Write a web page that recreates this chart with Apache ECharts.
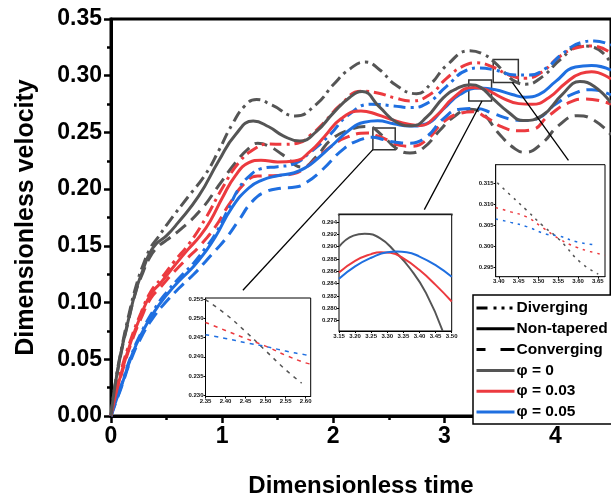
<!DOCTYPE html>
<html><head><meta charset="utf-8">
<script src="https://cdn.jsdelivr.net/npm/echarts@6/dist/echarts.min.js"></script>
<style>html,body{margin:0;padding:0;background:#fff}#c{width:611px;height:503px}</style>
</head><body><div id="c"></div>
<script>
const FONT = "'Liberation Sans', Arial, Helvetica, sans-serif";
const GRAY = '#555555', RED = '#ec3a3f', BLUE = '#1f6fe0';

// ---- main curves: [time, velocity] ----
const grayDiverging = [[0,0],[0.04,0.03],[0.1,0.062],[0.16,0.089],[0.23,0.116],[0.3,0.136],[0.36,0.149],[0.42,0.157],[0.52,0.171],[0.7,0.194],[0.85,0.213],[0.97,0.234],[1.09,0.257],[1.21,0.274],[1.31,0.279],[1.45,0.274],[1.66,0.2645],[1.85,0.275],[2.0,0.292],[2.15,0.306],[2.29,0.312],[2.42,0.305],[2.56,0.292],[2.75,0.2842],[2.88,0.293],[3.02,0.309],[3.23,0.322],[3.35,0.319],[3.45,0.312],[3.55,0.302],[3.64,0.2948],[3.73,0.2925],[3.88,0.299],[4.05,0.3148],[4.23,0.3263],[4.35,0.3249],[4.5,0.311]];
const grayNonTapered = [[0,0],[0.035,0.026],[0.09,0.056],[0.15,0.082],[0.225,0.111],[0.285,0.128],[0.345,0.143],[0.41,0.152],[0.5,0.159],[0.6,0.17],[0.79,0.194],[0.97,0.225],[1.12,0.248],[1.28,0.260],[1.42,0.255],[1.55,0.247],[1.70,0.2424],[1.85,0.251],[2.0,0.267],[2.15,0.281],[2.26,0.286],[2.42,0.272],[2.57,0.259],[2.71,0.2558],[2.84,0.2634],[2.99,0.2805],[3.1,0.288],[3.23,0.2921],[3.33,0.2895],[3.43,0.2805],[3.58,0.2676],[3.71,0.2605],[3.88,0.2648],[4.06,0.2834],[4.22,0.2948],[4.35,0.2905],[4.5,0.276]];
const grayConverging = [[0,0],[0.035,0.025],[0.09,0.055],[0.15,0.081],[0.225,0.11],[0.285,0.126],[0.35,0.14],[0.42,0.149],[0.5,0.155],[0.644,0.166],[0.822,0.1833],[0.97,0.2033],[1.12,0.2233],[1.24,0.236],[1.32,0.2405],[1.42,0.238],[1.55,0.230],[1.72,0.2195],[1.85,0.229],[1.98,0.2436],[2.15,0.2525],[2.3,0.2552],[2.45,0.2466],[2.56,0.2365],[2.69,0.2319],[2.81,0.2362],[2.96,0.2519],[3.08,0.2634],[3.23,0.2705],[3.35,0.2662],[3.49,0.2491],[3.64,0.2353],[3.73,0.2325],[3.88,0.2405],[4.03,0.2562],[4.2,0.2648],[4.325,0.262],[4.5,0.248]];
const redDiverging = [[0,0],[0.04,0.02],[0.09,0.04],[0.18,0.068],[0.27,0.091],[0.36,0.11],[0.45,0.121],[0.567,0.136],[0.703,0.152],[0.85,0.174],[1.0,0.2005],[1.15,0.2233],[1.30,0.236],[1.42,0.2398],[1.55,0.2395],[1.68,0.2405],[1.80,0.248],[1.92,0.259],[2.07,0.2748],[2.25,0.2863],[2.40,0.2848],[2.55,0.2806],[2.70,0.2778],[2.87,0.2834],[3.02,0.2977],[3.16,0.308],[3.286,0.3114],[3.435,0.3077],[3.583,0.3006],[3.73,0.2977],[3.88,0.3034],[4.03,0.3163],[4.2,0.3249],[4.325,0.3263],[4.5,0.320]];
const redNonTapered = [[0,0],[0.04,0.018],[0.092,0.0375],[0.181,0.066],[0.27,0.089],[0.359,0.1075],[0.448,0.1175],[0.567,0.132],[0.686,0.146],[0.804,0.159],[0.9,0.173],[1.0,0.192],[1.12,0.212],[1.24,0.2233],[1.35,0.2255],[1.5,0.224],[1.65,0.2248],[1.80,0.234],[1.92,0.2462],[2.07,0.262],[2.25,0.269],[2.40,0.2656],[2.55,0.2605],[2.69,0.2571],[2.78,0.2562],[2.93,0.2648],[3.08,0.2805],[3.26,0.2897],[3.375,0.2877],[3.52,0.2805],[3.67,0.2754],[3.79,0.2748],[3.94,0.2806],[4.09,0.2934],[4.23,0.302],[4.325,0.3034],[4.5,0.297]];
const redConverging = [[0,0],[0.04,0.017],[0.092,0.036],[0.181,0.064],[0.27,0.086],[0.36,0.104],[0.45,0.114],[0.567,0.127],[0.686,0.139],[0.79,0.149],[0.94,0.167],[1.06,0.1861],[1.21,0.206],[1.32,0.2115],[1.5,0.212],[1.64,0.2135],[1.75,0.219],[1.85,0.227],[1.98,0.2376],[2.13,0.246],[2.31,0.2495],[2.40,0.2469],[2.50,0.2428],[2.60,0.2386],[2.70,0.2378],[2.84,0.2433],[2.99,0.2591],[3.14,0.2668],[3.256,0.2683],[3.375,0.2634],[3.52,0.2548],[3.67,0.2514],[3.79,0.2525],[3.94,0.2648],[4.12,0.2763],[4.27,0.2795],[4.5,0.275]];
const blueDiverging = [[0,0],[0.04,0.014],[0.092,0.027],[0.181,0.053],[0.27,0.073],[0.389,0.094],[0.508,0.11],[0.626,0.123],[0.745,0.135],[0.849,0.148],[0.94,0.1604],[1.06,0.1833],[1.15,0.2005],[1.25,0.212],[1.35,0.218],[1.5,0.2198],[1.64,0.222],[1.80,0.233],[1.98,0.249],[2.13,0.2648],[2.34,0.2748],[2.544,0.2734],[2.69,0.2719],[2.84,0.2754],[3.02,0.2906],[3.20,0.3048],[3.32,0.3068],[3.46,0.3048],[3.64,0.3006],[3.76,0.3006],[3.91,0.3063],[4.06,0.3191],[4.23,0.3292],[4.35,0.3306],[4.5,0.327]];
const blueNonTapered = [[0,0],[0.04,0.012],[0.092,0.026],[0.181,0.0517],[0.27,0.0718],[0.389,0.0918],[0.508,0.1075],[0.626,0.1204],[0.745,0.132],[0.849,0.1447],[0.94,0.158],[1.09,0.184],[1.24,0.201],[1.36,0.208],[1.5,0.2118],[1.65,0.2145],[1.76,0.2195],[1.86,0.227],[1.98,0.2376],[2.16,0.2533],[2.28,0.259],[2.40,0.2603],[2.544,0.2577],[2.69,0.2556],[2.84,0.2577],[2.99,0.2705],[3.14,0.2834],[3.32,0.2891],[3.46,0.2877],[3.61,0.2834],[3.73,0.2811],[3.85,0.2834],[4.0,0.2948],[4.18,0.3077],[4.325,0.3091],[4.5,0.305]];
const blueConverging = [[0,0],[0.04,0.011],[0.092,0.025],[0.181,0.05],[0.27,0.069],[0.389,0.088],[0.508,0.102],[0.626,0.114],[0.745,0.125],[0.849,0.136],[0.94,0.146],[1.03,0.156],[1.15,0.1725],[1.27,0.189],[1.39,0.1976],[1.53,0.2008],[1.66,0.2018],[1.76,0.206],[1.89,0.216],[2.10,0.236],[2.25,0.2438],[2.35,0.2458],[2.45,0.2437],[2.55,0.2415],[2.69,0.2405],[2.84,0.2462],[2.99,0.262],[3.14,0.2705],[3.286,0.2712],[3.435,0.2668],[3.583,0.262],[3.73,0.2605],[3.85,0.2628],[4.0,0.2748],[4.18,0.2848],[4.325,0.2877],[4.5,0.283]];

// ---- inset curves ----
const inset1Gray = [[2.35,0.2550],[2.40,0.2512],[2.45,0.2466],[2.50,0.2416],[2.55,0.2366],[2.59,0.2331]];
const inset1Red  = [[2.35,0.2490],[2.40,0.2469],[2.45,0.2448],[2.50,0.2428],[2.55,0.2404],[2.60,0.2384],[2.6125,0.2381]];
const inset1Blue = [[2.35,0.2458],[2.40,0.2448],[2.45,0.2437],[2.50,0.2427],[2.55,0.2415],[2.60,0.2405],[2.6125,0.2403]];
const inset2Gray = [[3.15,0.2900],[3.195,0.2918],[3.23,0.2921],[3.277,0.2914],[3.324,0.2892],[3.37,0.2865],[3.42,0.2825],[3.472,0.2763]];
const inset2Red  = [[3.15,0.2858],[3.20,0.2877],[3.25,0.2888],[3.28,0.2891],[3.31,0.2890],[3.35,0.2881],[3.40,0.2862],[3.45,0.2838],[3.50,0.2811]];
const inset2Blue = [[3.15,0.2848],[3.20,0.2868],[3.25,0.2882],[3.30,0.2891],[3.33,0.2892],[3.36,0.2891],[3.40,0.2884],[3.45,0.2870],[3.50,0.2851]];
const inset3Gray = [[3.396,0.3151],[3.43,0.3121],[3.47,0.3086],[3.51,0.3050],[3.554,0.3015],[3.605,0.2963],[3.651,0.2934]];
const inset3Red  = [[3.392,0.3092],[3.43,0.3082],[3.47,0.3070],[3.504,0.3049],[3.554,0.3017],[3.596,0.2998],[3.63,0.2988],[3.668,0.2979]];
const inset3Blue = [[3.392,0.3065],[3.43,0.3057],[3.47,0.3047],[3.52,0.3029],[3.554,0.3024],[3.596,0.3011],[3.647,0.3003]];

// ---- tick labels ----
const mainXTicks = [0,1,2,3,4];
const inset1XTicks = [2.35,2.40,2.45,2.50,2.55,2.60];
const inset1YTicks = [0.230,0.235,0.240,0.245,0.250,0.255];
const inset2XTicks = [3.15,3.20,3.25,3.30,3.35,3.40,3.45,3.50];
const inset2YTicks = [0.278,0.280,0.282,0.284,0.286,0.288,0.290,0.292,0.294];
const inset3XTicks = [3.40,3.45,3.50,3.55,3.60,3.65];
const inset3YTicks = [0.295,0.300,0.305,0.310,0.315];

// ---- annotations: zoom boxes and arrows (data coords of main plot) ----
const zoomBoxes = [[[2.357,0.2348],[2.558,0.2539]],[[3.22,0.2777],[3.425,0.2962]],[[3.44,0.294],[3.666,0.3142]]];
const arrows = [[[2.357,0.2348],[1.187,0.1109]],[[3.339,0.2777],[2.82,0.1819]],[[3.613,0.294],[4.117,0.2254]]];

const legendNames = ['Diverging','Non-tapered','Converging','\u03C6 = 0','\u03C6 = 0.03','\u03C6 = 0.05'];

const DASHDOT = [12,5,3,5];
const DASH = [13,7];

function mainLine(name, data, color, type) {
  return {type:'line', name:name+'_', xAxisIndex:0, yAxisIndex:0, data:data, smooth:0.5,
    symbol:'none', silent:true, z:3, lineStyle:{color:color, width:3, type:type, cap:'butt'}};
}
function insetLine(idx, data, color, type, width) {
  return {type:'line', xAxisIndex:idx, yAxisIndex:idx, data:data, smooth:0.5,
    symbol:'none', silent:true, z:12, lineStyle:{color:color, width:width, type:type, cap:'butt'}};
}
function legendDummy(name, color, type) {
  return {type:'line', name:name, xAxisIndex:0, yAxisIndex:0, data:[], symbol:'none',
    lineStyle:{color:color, width:3, type:type, cap:'butt'}, itemStyle:{color:color}};
}
function insetAxisX(grid, min, max, ticks) {
  return {type:'value', gridIndex:grid, min:min, max:max, splitLine:{show:false},
    axisLine:{onZero:false, lineStyle:{color:'#000', width:1}},
    axisTick:{customValues:ticks, length:2, lineStyle:{color:'#000', width:1}},
    axisLabel:{customValues:ticks, fontSize:6, margin:2, color:'#111', fontFamily:FONT, fontWeight:'bold', formatter:v=>v.toFixed(2)}};
}
function insetAxisY(grid, min, max, ticks) {
  return {type:'value', gridIndex:grid, min:min, max:max, splitLine:{show:false},
    axisLine:{onZero:false, lineStyle:{color:'#000', width:1}},
    axisTick:{customValues:ticks, length:2, lineStyle:{color:'#000', width:1}},
    axisLabel:{customValues:ticks, fontSize:6, margin:2, color:'#111', fontFamily:FONT, fontWeight:'bold', formatter:v=>v.toFixed(3)}};
}

const chart = echarts.init(document.getElementById('c'), null, {renderer:'canvas'});
const option = {
  animation:false,
  backgroundColor:'#fff',
  grid:[
    {left:111, top:19, width:505, height:408, show:true, borderColor:'#000', borderWidth:3, backgroundColor:'transparent'},
    {left:205.5, top:298, width:105.2, height:98.5, show:true, borderColor:'#000', borderWidth:1, backgroundColor:'#fff', z:10},
    {left:339, top:214.7, width:112.7, height:116.3, show:true, borderColor:'#000', borderWidth:1, backgroundColor:'#fff', z:10},
    {left:495.7, top:164.7, width:109.3, height:112, show:true, borderColor:'#000', borderWidth:1, backgroundColor:'#fff', z:10}
  ],
  xAxis:[
    {type:'value', gridIndex:0, min:0, max:4.5, interval:1, splitLine:{show:false},
      name:'Dimensionless time', nameLocation:'middle', nameGap:58,
      nameTextStyle:{fontSize:24, fontWeight:'bold', color:'#000', fontFamily:FONT},
      axisLine:{onZero:false, lineStyle:{color:'#000', width:3}},
      axisTick:{length:7, lineStyle:{color:'#000', width:2.5}},
      minorTick:{show:true, splitNumber:2, length:4, lineStyle:{color:'#000', width:2.5}},
      axisLabel:{fontSize:23, fontWeight:'bold', color:'#000', fontFamily:FONT, margin:9,
        customValues:mainXTicks, formatter:v=>String(v)}},
    insetAxisX(1, 2.35, 2.6125, inset1XTicks),
    insetAxisX(2, 3.15, 3.50, inset2XTicks),
    insetAxisX(3, 3.392, 3.668, inset3XTicks),
    {type:'value', gridIndex:2, position:'top', min:3.15, max:3.50, splitLine:{show:false},
      axisLine:{onZero:false, lineStyle:{color:'#666', width:2.5}}, axisTick:{show:false}, axisLabel:{show:false}}
  ],
  yAxis:[
    {type:'value', gridIndex:0, min:0, max:0.35, interval:0.05, splitLine:{show:false},
      name:'Dimensionless velocity', nameLocation:'middle', nameGap:72,
      nameTextStyle:{fontSize:25, fontWeight:'bold', color:'#000', fontFamily:FONT},
      axisLine:{onZero:false, lineStyle:{color:'#000', width:3}},
      axisTick:{length:7, lineStyle:{color:'#000', width:2.5}},
      minorTick:{show:true, splitNumber:2, length:4, lineStyle:{color:'#000', width:2.5}},
      axisLabel:{fontSize:23, fontWeight:'bold', color:'#000', fontFamily:FONT, margin:9, formatter:v=>v.toFixed(2)}},
    insetAxisY(1, 0.2296, 0.2554, inset1YTicks),
    insetAxisY(2, 0.2763, 0.2952, inset2YTicks),
    insetAxisY(3, 0.2928, 0.3194, inset3YTicks)
  ],
  legend:{
    data:legendNames, orient:'vertical', left:473, top:295, selectedMode:false,
    padding:[5,8,4,2], itemGap:4.8, itemWidth:38, itemHeight:14,
    borderColor:'#000', borderWidth:1.5, backgroundColor:'#fff',
    itemStyle:{opacity:0},
    lineStyle:{width:3},
    textStyle:{fontSize:15.5, fontWeight:'bold', color:'#000', fontFamily:FONT, padding:[0,0,0,-3]}
  },
  series:[
    mainLine('gd', grayDiverging, GRAY, DASHDOT),
    mainLine('gc', grayConverging, GRAY, DASH),
    mainLine('rd', redDiverging, RED, DASHDOT),
    mainLine('rc', redConverging, RED, DASH),
    mainLine('bd', blueDiverging, BLUE, DASHDOT),
    mainLine('bc', blueConverging, BLUE, DASH),
    mainLine('bn', blueNonTapered, BLUE, 'solid'),
    mainLine('rn', redNonTapered, RED, 'solid'),
    mainLine('gn', grayNonTapered, GRAY, 'solid'),
    {type:'line', xAxisIndex:0, yAxisIndex:0, data:[[0,0]], symbol:'none', silent:true, lineStyle:{width:0, opacity:0}, z:8,
      markArea:{silent:true, itemStyle:{color:'rgba(0,0,0,0)', borderColor:'#333', borderWidth:1.5},
        data:zoomBoxes.map(b=>[{coord:b[0]},{coord:b[1]}])},
      markLine:{silent:true, symbol:['none','arrow'], symbolSize:[0,10], label:{show:false},
        lineStyle:{color:'#000', width:1.3, type:'solid'},
        data:arrows.map(a=>[{coord:a[0]},{coord:a[1]}])}},
    insetLine(1, inset1Gray, GRAY, [4,5], 1.5),
    insetLine(1, inset1Red, RED, [4,5], 1.5),
    insetLine(1, inset1Blue, BLUE, [4,5], 1.5),
    insetLine(2, inset2Gray, GRAY, 'solid', 2),
    insetLine(2, inset2Red, RED, 'solid', 2),
    insetLine(2, inset2Blue, BLUE, 'solid', 2),
    insetLine(3, inset3Gray, GRAY, [2.5,5], 1.5),
    insetLine(3, inset3Red, RED, [2.5,5], 1.5),
    insetLine(3, inset3Blue, BLUE, [2.5,5], 1.5),
    legendDummy(legendNames[0], '#000', [11,6,3,5,3,5,3,20]),
    legendDummy(legendNames[1], '#000', 'solid'),
    legendDummy(legendNames[2], '#000', [9,15,14,10]),
    legendDummy(legendNames[3], GRAY, 'solid'),
    legendDummy(legendNames[4], RED, 'solid'),
    legendDummy(legendNames[5], BLUE, 'solid')
  ]
};
chart.setOption(option);
</script></body></html>
